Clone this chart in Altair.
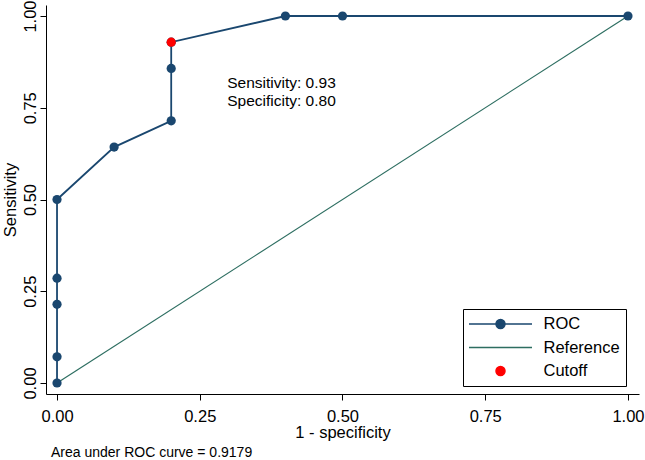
import altair as alt
import pandas as pd

FONT = "Liberation Sans"

# ROC curve points (1 - specificity, sensitivity)
fpr = [0.0, 0.0, 0.0, 0.0, 0.0, 0.1, 0.2, 0.2, 0.2, 0.4, 0.5, 1.0]
tpr = [0.0, 0.0714, 0.2143, 0.2857, 0.5, 0.6429, 0.7143, 0.8571, 0.9286, 1.0, 1.0, 1.0]
# reference diagonal
ref_x = [0.0, 1.0]
ref_y = [0.0, 1.0]
# optimal cutoff
cut_fpr = [0.2]
cut_tpr = [0.9286]
# legend
series = ["ROC", "Reference", "Cutoff"]
colors = ["#1a476f", "#2d6e61", "#ff0000"]
ticks = [0.0, 0.25, 0.5, 0.75, 1.0]
auc_note = "Area under ROC curve = 0.9179"

df_roc = pd.DataFrame({"x": fpr, "y": tpr, "idx": list(range(len(fpr)))})
df_ref = pd.DataFrame({"x": ref_x, "y": ref_y})
df_cut = pd.DataFrame({
    "x": cut_fpr,
    "y": cut_tpr,
    "label": [f"Sensitivity: {t:.2f}\nSpecificity: {1 - f:.2f}" for f, t in zip(cut_fpr, cut_tpr)],
})
df_leg = pd.DataFrame({"series": series})

xscale = alt.Scale(domain=[-0.0193, 1.0193], nice=False, zero=False)
yscale = alt.Scale(domain=[-0.030, 1.030], nice=False, zero=False)

xaxis = alt.Axis(title="1 - specificity", values=ticks, format=".2f", tickSize=6,
                 labelPadding=8, titlePadding=0, labelFlush=False, labelOverlap=False)
yaxis = alt.Axis(title="Sensitivity", values=ticks, format=".2f", tickSize=6,
                 labelAngle=270, labelAlign="center", labelBaseline="bottom",
                 labelPadding=2, titlePadding=4, labelFlush=False, labelOverlap=False)

X = alt.X("x:Q", scale=xscale, axis=xaxis)
Y = alt.Y("y:Q", scale=yscale, axis=yaxis)

ref = alt.Chart(df_ref).mark_line(color=colors[1], strokeWidth=1.2).encode(x=X, y=Y)
roc_line = alt.Chart(df_roc).mark_line(color=colors[0], strokeWidth=1.8).encode(
    x="x:Q", y="y:Q", order="idx:Q")
roc_pts = alt.Chart(df_roc).mark_point(filled=True, size=85, opacity=1, color=colors[0]).encode(
    x="x:Q", y="y:Q")
cut_pt = alt.Chart(df_cut).mark_point(filled=True, size=85, opacity=1, color=colors[2]).encode(
    x="x:Q", y="y:Q")
cut_txt = alt.Chart(df_cut).mark_text(
    align="left", baseline="alphabetic", dx=56, dy=46, lineBreak="\n", lineHeight=17.5,
    fontSize=15.5, font=FONT, color="black").encode(x="x:Q", y="y:Q", text="label:N")

r = 8.0
line_half = 31.5 / r
cr = 4.5 / r
circle = f"M-{cr},0A{cr},{cr},0,1,0,{cr},0A{cr},{cr},0,1,0,-{cr},0Z"
paths = [f"M-{line_half},0L{line_half},0" + circle, f"M-{line_half},0L{line_half},0", circle]

leg = alt.Legend(title=None, orient="none", direction="vertical", legendX=417, legendY=304,
                 padding=6, strokeColor="black", fillColor="white", cornerRadius=0,
                 symbolSize=r * r * 4, symbolStrokeWidth=1.5, symbolOffset=22.5, labelOffset=34,
                 labelFontSize=16.5, labelFont=FONT, labelColor="black", rowPadding=5.5,
                 symbolOpacity=1)

legend_layer = alt.Chart(df_leg).mark_point(filled=True, opacity=0).encode(
    color=alt.Color("series:N", scale=alt.Scale(domain=series, range=colors), legend=leg),
    stroke=alt.Stroke("series:N", scale=alt.Scale(domain=series, range=colors), legend=leg),
    shape=alt.Shape("series:N", scale=alt.Scale(domain=series, range=paths), legend=leg),
)

chart = alt.layer(ref, roc_line, roc_pts, cut_pt, cut_txt, legend_layer).properties(
    width=593, height=389,
    padding={"left": 46, "top": 5, "right": 6, "bottom": 66},
    autosize=alt.AutoSizeParams(type="none"),
    title=alt.TitleParams(auc_note, orient="bottom", anchor="start", frame="group", dx=5, offset=5,
                          fontSize=14, font=FONT, fontWeight="normal", color="black"),
).configure(font=FONT, background="white").configure_axis(
    labelFont=FONT, titleFont=FONT, labelFontSize=16.5, titleFontSize=16.5,
    titleFontWeight="normal", labelColor="black", titleColor="black",
    domainColor="black", tickColor="black", grid=False,
).configure_legend(strokeWidth=1).configure_view(stroke=None)

chart.save("out.html", embed_options={"renderer": "svg", "actions": False})
